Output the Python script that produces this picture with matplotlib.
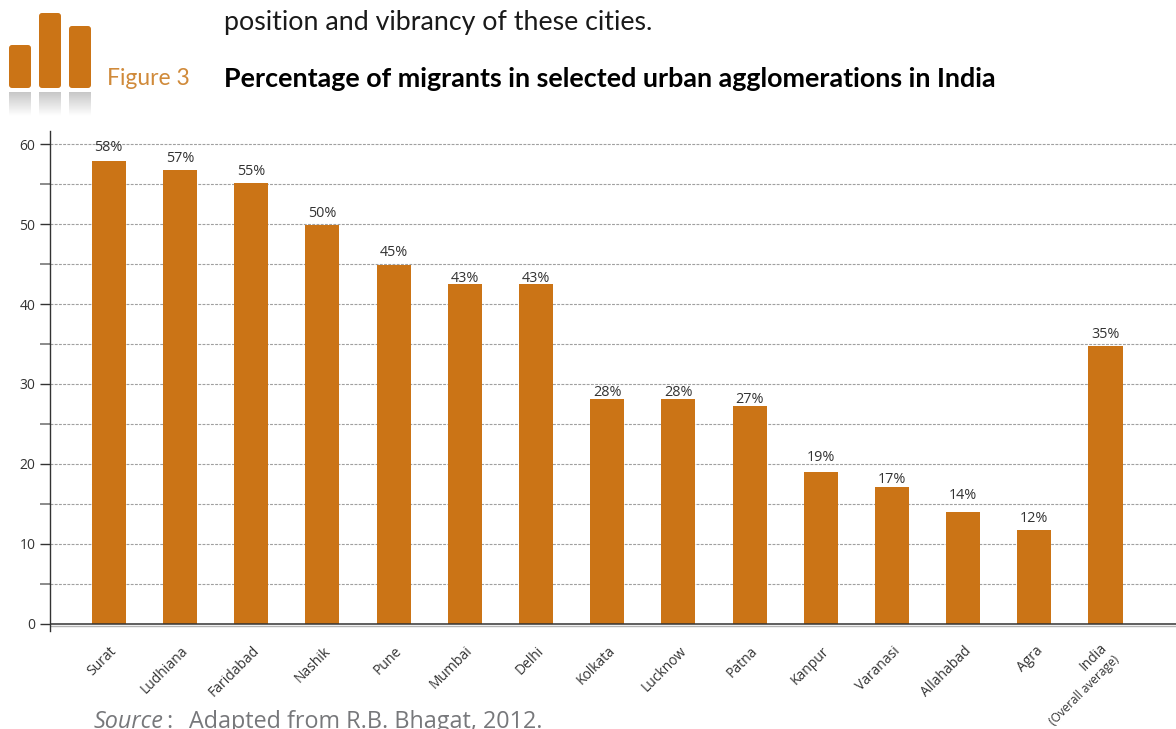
import numpy as np
import matplotlib
matplotlib.use('Agg')
import matplotlib.pyplot as plt
from matplotlib.patches import FancyBboxPatch
from matplotlib.transforms import offset_copy

cities = ['Surat', 'Ludhiana', 'Faridabad', 'Nashik', 'Pune', 'Mumbai', 'Delhi', 'Kolkata',
          'Lucknow', 'Patna', 'Kanpur', 'Varanasi', 'Allahabad', 'Agra', 'India']
values = [57.9, 56.8, 55.2, 49.9, 44.9, 42.5, 42.5, 28.1, 28.1, 27.2, 19.0, 17.1, 14.0, 11.7, 34.8]
value_labels = ['58%', '57%', '55%', '50%', '45%', '43%', '43%', '28%', '28%', '27%',
                '19%', '17%', '14%', '12%', '35%']
major_ticks = [0, 10, 20, 30, 40, 50, 60]
minor_ticks = [5, 15, 25, 35, 45, 55]

# gap between bar top and its label centre, in pixels (uneven in the original)
label_gap = [13, 11, 11, 11, 12, 6, 6, 7, 7, 7, 14, 8, 16, 12, 11]

orange = '#CB7416'
dark = '#333333'
W, H = 1176, 729

plt.rcParams['font.family'] = ['Open Sans', 'DejaVu Sans']
fig = plt.figure(figsize=(W / 100, H / 100), dpi=100)

# page furniture, drawn in pixel coordinates
bg = fig.add_axes([0, 0, 1, 1])
bg.set_xlim(0, W)
bg.set_ylim(H, 0)
bg.axis('off')

fade = np.linspace(0.78, 1.0, 50).reshape(-1, 1)
for left, top in [(9, 45), (39, 13), (69, 26)]:
    bg.add_patch(FancyBboxPatch((left + 2, top + 2), 18, 88 - top - 4,
                                boxstyle='round,pad=2,rounding_size=3', fc=orange, ec='none'))
    bg.imshow(fade, extent=(left, left + 22, 116, 92), cmap='gray', vmin=0, vmax=1,
              aspect='auto', interpolation='bilinear')
bg.set_xlim(0, W)
bg.set_ylim(H, 0)

bg.text(224, 22, 'position and vibrancy of these cities.', family='Lato', fontsize=19.3, color='#1a1a1a',
        va='center', ha='left')
bg.text(107, 78, 'Figure 3', family='Lato', fontsize=16.5, color='#D08A3A',
        va='center', ha='left')
bg.text(224, 79, 'Percentage of migrants in selected urban agglomerations in India', family='Lato',
        fontsize=19.4, fontweight='bold', color='black', va='center', ha='left')
bg.text(94, 722, 'Source', fontsize=16.8, style='italic', color='#77787b', va='center', ha='left')
bg.text(166, 722, ':', fontsize=16.8, color='#77787b', va='center', ha='left')
bg.text(189, 722, 'Adapted from R.B. Bhagat, 2012.', fontsize=16.8, color='#77787b', va='center', ha='left')

# chart
ax = fig.add_axes([50 / W, 1 - 631 / H, (W - 50) / W, 500 / H])
ax.patch.set_alpha(0)
x = np.arange(len(cities))
ax.set_xlim(-0.825, 14.99)
ax.set_ylim(-0.9, 61.65)

for v in major_ticks[1:] + minor_ticks:
    ax.axhline(v, color='#a0a0a0', lw=0.8, ls=(0, (2.6, 1.2)), zorder=1)
ax.axhline(-0.25, color='#b5b5b5', lw=1.0, zorder=1)
ax.axhline(0, color=dark, lw=1.1, zorder=3)

ax.bar(x, values, width=0.478, color=orange, zorder=2)
for xi, v, lab, gap in zip(x, values, value_labels, label_gap):
    ax.annotate(lab, (xi, v), xytext=(0, gap * 0.72), textcoords='offset points', ha='center', va='center',
                fontsize=10.4, color=dark, zorder=4)

for s in ['top', 'right', 'bottom']:
    ax.spines[s].set_visible(False)
ax.spines['left'].set_color(dark)
ax.spines['left'].set_linewidth(1.0)

ax.set_yticks(major_ticks)
ax.set_yticks(minor_ticks, minor=True)
ax.tick_params(axis='y', which='major', length=7.5, width=1.0, color=dark, labelsize=10,
               labelcolor=dark, pad=3)
ax.tick_params(axis='y', which='minor', length=7.5, width=1.2, color='#777777')

ax.set_xticks(x)
ax.set_xticklabels(cities, rotation=45, ha='right', va='top', rotation_mode='anchor',
                   fontsize=10, color=dark)
ax.tick_params(axis='x', length=0)
shift = offset_copy(ax.get_xaxis_transform(), fig=fig, x=0.5, y=-9, units='points')
for t in ax.get_xticklabels():
    t.set_transform(shift)
# India sits a little up and left to leave room for the second line
ax.get_xticklabels()[-1].set_transform(offset_copy(ax.get_xaxis_transform(), fig=fig, x=-4, y=-7, units='points'))
ax.annotate('(Overall average)', (x[-1], 0), xytext=(5.5, -21), textcoords='offset points',
            rotation=45, ha='right', va='top', rotation_mode='anchor', fontsize=8.6,
            color=dark, annotation_clip=False)

fig.savefig('out.png', dpi=100)
